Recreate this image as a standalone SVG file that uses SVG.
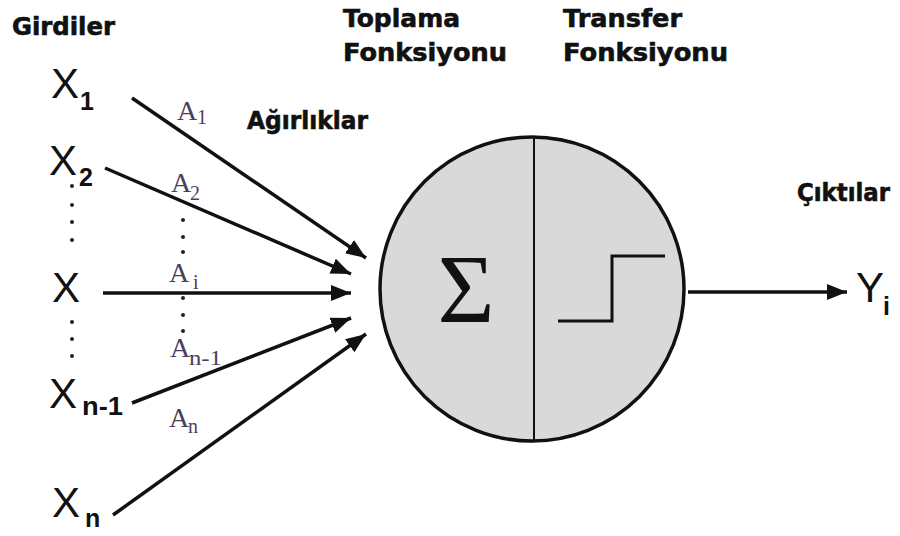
<svg xmlns="http://www.w3.org/2000/svg" width="900" height="536" viewBox="0 0 900 536">
<style>
.title{font-family:"DejaVu Sans",sans-serif;font-weight:bold;font-size:24px;fill:#111;stroke:#111;stroke-width:0.6}
.x{font-family:"Liberation Sans",Arial,sans-serif;font-size:42px;fill:#111}
.xs{font-family:"Liberation Sans",Arial,sans-serif;font-weight:bold;font-size:25px;fill:#111}
.a{font-family:"Liberation Serif","Times New Roman",serif;font-size:28px;fill:#4a3f5c}
.as{font-family:"Liberation Serif","Times New Roman",serif;font-size:20px;fill:#4a3f5c}
.dot{fill:#222}
.conn{stroke:#111;stroke-width:3.5;fill:none;marker-end:url(#ah)}
</style>
<defs>
<marker id="ah" markerUnits="userSpaceOnUse" markerWidth="22" markerHeight="18" refX="20" refY="9" orient="auto">
<path d="M0,1 L20,9 L0,17 Z" fill="#111"/>
</marker>
</defs>
<rect width="900" height="536" fill="#fff"/>

<g id="labels">
<text class="title" x="12" y="35" textLength="103" lengthAdjust="spacingAndGlyphs">Girdiler</text>
<text class="title" x="343" y="27" textLength="117" lengthAdjust="spacingAndGlyphs">Toplama</text>
<text class="title" x="343" y="61" textLength="164" lengthAdjust="spacingAndGlyphs">Fonksiyonu</text>
<text class="title" x="563" y="27" textLength="119" lengthAdjust="spacingAndGlyphs">Transfer</text>
<text class="title" x="563" y="61" textLength="165" lengthAdjust="spacingAndGlyphs">Fonksiyonu</text>
<text class="title" x="247" y="129" textLength="121" lengthAdjust="spacingAndGlyphs">Ağırlıklar</text>
<text class="title" x="797" y="201" textLength="93" lengthAdjust="spacingAndGlyphs">Çıktılar</text>
</g>

<g id="inputs">
<g id="x1"><text class="x" x="51" y="98">X</text><text class="xs" x="80" y="110">1</text></g>
<g id="x2"><text class="x" x="49" y="175">X</text><text class="xs" x="79" y="186">2</text></g>
<g id="xi"><text class="x" x="52" y="302">X</text></g>
<g id="xn1"><text class="x" x="49" y="408">X</text><text class="xs" x="82" y="415" textLength="41" lengthAdjust="spacingAndGlyphs">n-1</text></g>
<g id="xn"><text class="x" x="52" y="517">X</text><text class="xs" x="85" y="527" font-size="28">n</text></g>
</g>

<g id="dots-left">
<circle class="dot" cx="72" cy="186" r="2"/>
<circle class="dot" cx="72" cy="205" r="2"/>
<circle class="dot" cx="72" cy="222" r="2"/>
<circle class="dot" cx="72" cy="240" r="2"/>
<circle class="dot" cx="72" cy="322" r="2"/>
<circle class="dot" cx="72" cy="339" r="2"/>
<circle class="dot" cx="72" cy="356" r="2"/>
</g>

<g id="dots-mid">
<circle class="dot" cx="183" cy="220" r="2"/>
<circle class="dot" cx="183" cy="237" r="2"/>
<circle class="dot" cx="183" cy="252" r="2"/>
<circle class="dot" cx="183" cy="298" r="2"/>
<circle class="dot" cx="183" cy="315" r="2"/>
<circle class="dot" cx="183" cy="331" r="2"/>
</g>

<g id="connectors">
<line class="conn" x1="132" y1="98" x2="366" y2="258"/>
<line class="conn" x1="105" y1="168" x2="351" y2="274"/>
<line class="conn" x1="103" y1="293" x2="351" y2="293"/>
<line class="conn" x1="132" y1="403" x2="351" y2="318"/>
<line class="conn" x1="113" y1="515" x2="366" y2="334"/>
<line class="conn" x1="688" y1="292" x2="847" y2="292"/>
</g>

<g id="weights">
<g id="a1"><text class="a" x="177" y="120">A</text><text class="as" x="197" y="124" font-size="18">1</text></g>
<g id="a2"><text class="a" x="171" y="192">A</text><text class="as" x="190" y="200">2</text></g>
<g id="ai"><text class="a" x="169" y="282">A</text><text class="as" x="193" y="289" font-size="18">i</text></g>
<g id="an1"><text class="a" x="170" y="357">A</text><text class="as" x="189" y="365" textLength="33" lengthAdjust="spacingAndGlyphs">n-1</text></g>
<g id="an"><text class="a" x="169" y="427">A</text><text class="as" x="188" y="433">n</text></g>
</g>

<g id="neuron">
<circle cx="532" cy="289" r="152" fill="#d9d9d9" stroke="#111" stroke-width="3.5"/>
<line x1="534" y1="137" x2="534" y2="441" stroke="#111" stroke-width="2"/>
<text x="466" y="322" text-anchor="middle" font-family="Liberation Serif,'Times New Roman',serif" font-size="98" fill="#111">Σ</text>
<polyline points="558,321 612,321 612,256 665,256" fill="none" stroke="#111" stroke-width="3"/>
</g>

<g id="output">
<text class="x" x="856" y="302" font-size="44">Y</text>
<text class="xs" x="883" y="315">i</text>
</g>
</svg>
